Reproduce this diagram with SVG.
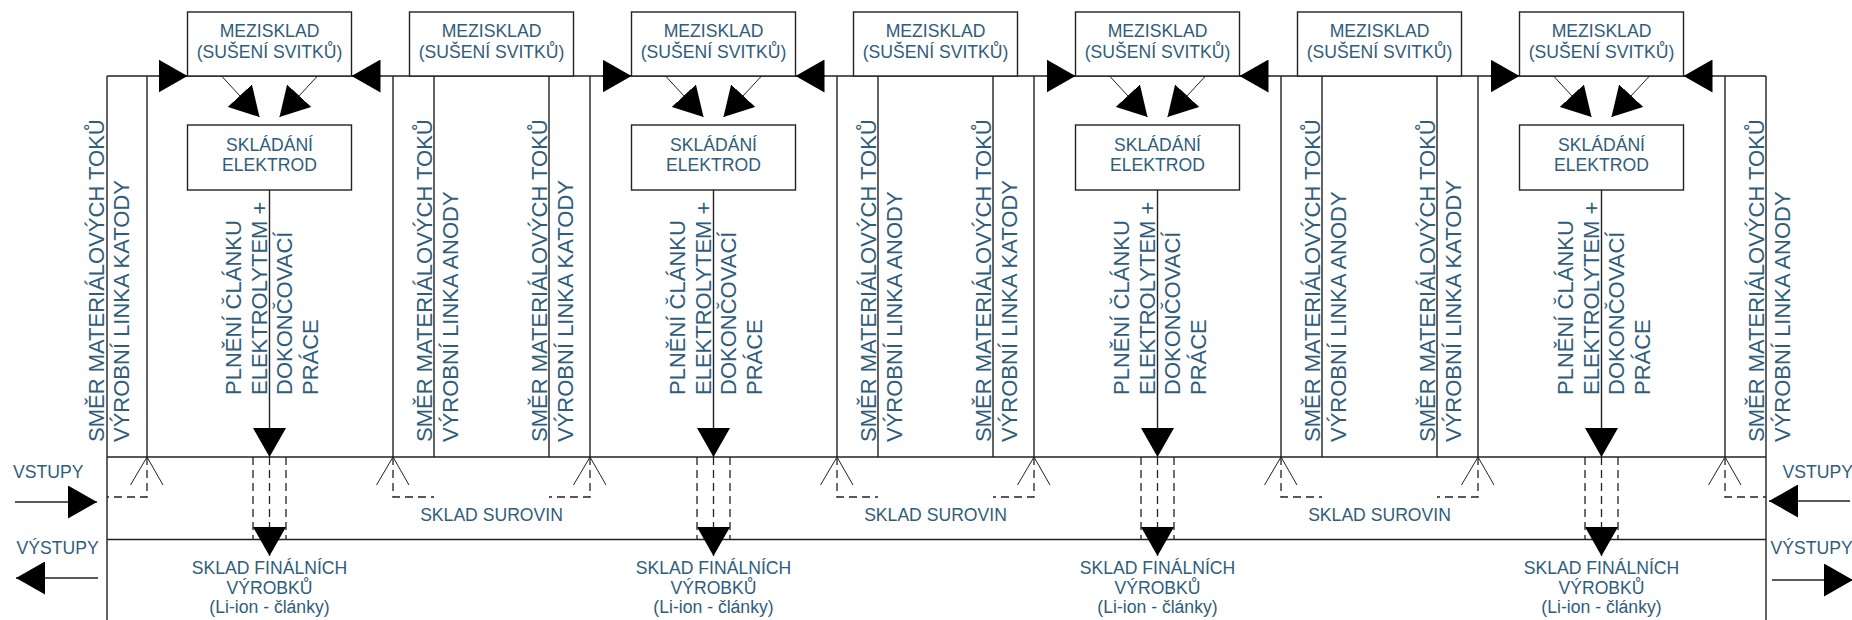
<svg xmlns="http://www.w3.org/2000/svg" width="1852" height="620" viewBox="0 0 1852 620">
<defs>
<style>
.ln{stroke:#222;stroke-width:1.4;fill:none}
.th{stroke:#222;stroke-width:1;fill:none}
.ds{stroke:#222;stroke-width:1.3;stroke-dasharray:8 5;fill:none}
.bx{fill:#fff;stroke:#222;stroke-width:1.4}
.t{font-family:"Liberation Sans",Arial,sans-serif;font-size:17.6px;fill:#2f5d7b}
.c{text-anchor:middle}
.v{font-size:22px}
</style>
<marker id="ah" viewBox="0 0 29 33" refX="29" refY="16.5" markerWidth="29" markerHeight="33" markerUnits="userSpaceOnUse" orient="auto">
<path d="M0,0 L29,16.5 L0,33 Z" fill="#000" stroke="none"/>
</marker>
</defs>
<rect width="1852" height="620" fill="#fff"/>

<g id="connectors">
<path class="ln" d="M107,76 H1766 M107,457 H1766 M107,539.5 H1766 M107,76 V620 M1766,76 V620"/>
<path class="ln" d="M147,76 V457 M393,76 V457 M434,76 V457 M549,76 V457 M590,76 V457 M837,76 V457 M878,76 V457 M993,76 V457 M1034,76 V457 M1281,76 V457 M1322,76 V457 M1437,76 V457 M1478,76 V457 M1725,76 V457"/>
<path class="th" d="M130.5,485 L147,457 L163,485 M376.5,485 L393,457 L409,485 M573.5,485 L590,457 L606,485 M820.5,485 L837,457 L853,485 M1017.5,485 L1034,457 L1050,485 M1264.5,485 L1281,457 L1297,485 M1461.5,485 L1478,457 L1494,485 M1708.5,485 L1725,457 L1741,485"/>
<path class="ds" d="M147,457 V497 H107 M393,457 V497 H434 M590,457 V497 H549 M837,457 V497 H878 M1034,457 V497 H993 M1281,457 V497 H1322 M1478,457 V497 H1437 M1725,457 V497 H1766"/>
<path class="ds" d="M253,457 V539.5 M286,457 V539.5 M697,457 V539.5 M730,457 V539.5 M1141,457 V539.5 M1174,457 V539.5 M1585,457 V539.5 M1618,457 V539.5"/>
<g marker-end="url(#ah)">
<path class="ds" d="M269.5,457 V556"/>
<path class="ds" d="M713.5,457 V556"/>
<path class="ds" d="M1157.5,457 V556"/>
<path class="ds" d="M1601.5,457 V556"/>
<path class="ln" d="M269.5,190 V457"/>
<path class="ln" d="M713.5,190 V457"/>
<path class="ln" d="M1157.5,190 V457"/>
<path class="ln" d="M1601.5,190 V457"/>
<path class="ln" d="M158.5,76 H187.5"/>
<path class="ln" d="M380.5,76 H351.5"/>
<path class="ln" d="M602.5,76 H631.5"/>
<path class="ln" d="M824.5,76 H795.5"/>
<path class="ln" d="M1046.5,76 H1075.5"/>
<path class="ln" d="M1268.5,76 H1239.5"/>
<path class="ln" d="M1490.5,76 H1519.5"/>
<path class="ln" d="M1712.5,76 H1683.5"/>
<path class="th" d="M221.5,76 L259.5,117"/>
<path class="th" d="M317.5,76 L279.5,117"/>
<path class="th" d="M665.5,76 L703.5,117"/>
<path class="th" d="M761.5,76 L723.5,117"/>
<path class="th" d="M1109.5,76 L1147.5,117"/>
<path class="th" d="M1205.5,76 L1167.5,117"/>
<path class="th" d="M1553.5,76 L1591.5,117"/>
<path class="th" d="M1649.5,76 L1611.5,117"/>
<path class="ln" d="M15,502 H97"/>
<path class="ln" d="M98,578 H16"/>
<path class="ln" d="M1850,501 H1769"/>
<path class="ln" d="M1772,580 H1853"/>
</g>
</g>

<g id="mezisklad-1"><rect class="bx" x="187.5" y="12" width="164" height="64"/><text class="t c" x="269.5" y="37">MEZISKLAD<tspan x="269.5" y="57.5">(SUŠENÍ SVITKŮ)</tspan></text></g>
<g id="mezisklad-2"><rect class="bx" x="409.5" y="12" width="164" height="64"/><text class="t c" x="491.5" y="37">MEZISKLAD<tspan x="491.5" y="57.5">(SUŠENÍ SVITKŮ)</tspan></text></g>
<g id="mezisklad-3"><rect class="bx" x="631.5" y="12" width="164" height="64"/><text class="t c" x="713.5" y="37">MEZISKLAD<tspan x="713.5" y="57.5">(SUŠENÍ SVITKŮ)</tspan></text></g>
<g id="mezisklad-4"><rect class="bx" x="853.5" y="12" width="164" height="64"/><text class="t c" x="935.5" y="37">MEZISKLAD<tspan x="935.5" y="57.5">(SUŠENÍ SVITKŮ)</tspan></text></g>
<g id="mezisklad-5"><rect class="bx" x="1075.5" y="12" width="164" height="64"/><text class="t c" x="1157.5" y="37">MEZISKLAD<tspan x="1157.5" y="57.5">(SUŠENÍ SVITKŮ)</tspan></text></g>
<g id="mezisklad-6"><rect class="bx" x="1297.5" y="12" width="164" height="64"/><text class="t c" x="1379.5" y="37">MEZISKLAD<tspan x="1379.5" y="57.5">(SUŠENÍ SVITKŮ)</tspan></text></g>
<g id="mezisklad-7"><rect class="bx" x="1519.5" y="12" width="164" height="64"/><text class="t c" x="1601.5" y="37">MEZISKLAD<tspan x="1601.5" y="57.5">(SUŠENÍ SVITKŮ)</tspan></text></g>

<g id="skladani-1"><rect class="bx" x="187.5" y="125" width="164" height="65"/><text class="t c" x="269.5" y="151">SKLÁDÁNÍ<tspan x="269.5" y="171">ELEKTROD</tspan></text></g>
<g id="skladani-3"><rect class="bx" x="631.5" y="125" width="164" height="65"/><text class="t c" x="713.5" y="151">SKLÁDÁNÍ<tspan x="713.5" y="171">ELEKTROD</tspan></text></g>
<g id="skladani-5"><rect class="bx" x="1075.5" y="125" width="164" height="65"/><text class="t c" x="1157.5" y="151">SKLÁDÁNÍ<tspan x="1157.5" y="171">ELEKTROD</tspan></text></g>
<g id="skladani-7"><rect class="bx" x="1519.5" y="125" width="164" height="65"/><text class="t c" x="1601.5" y="151">SKLÁDÁNÍ<tspan x="1601.5" y="171">ELEKTROD</tspan></text></g>

<g id="plneni-1"><text class="t v" transform="translate(241,395) rotate(-90)"><tspan x="0" y="0">PLNĚNÍ ČLÁNKU</tspan><tspan x="0" y="25.7">ELEKTROLYTEM +</tspan><tspan x="0" y="51.4">DOKONČOVACÍ</tspan><tspan x="0" y="77.1">PRÁCE</tspan></text></g>
<g id="plneni-3"><text class="t v" transform="translate(685,395) rotate(-90)"><tspan x="0" y="0">PLNĚNÍ ČLÁNKU</tspan><tspan x="0" y="25.7">ELEKTROLYTEM +</tspan><tspan x="0" y="51.4">DOKONČOVACÍ</tspan><tspan x="0" y="77.1">PRÁCE</tspan></text></g>
<g id="plneni-5"><text class="t v" transform="translate(1129,395) rotate(-90)"><tspan x="0" y="0">PLNĚNÍ ČLÁNKU</tspan><tspan x="0" y="25.7">ELEKTROLYTEM +</tspan><tspan x="0" y="51.4">DOKONČOVACÍ</tspan><tspan x="0" y="77.1">PRÁCE</tspan></text></g>
<g id="plneni-7"><text class="t v" transform="translate(1573,395) rotate(-90)"><tspan x="0" y="0">PLNĚNÍ ČLÁNKU</tspan><tspan x="0" y="25.7">ELEKTROLYTEM +</tspan><tspan x="0" y="51.4">DOKONČOVACÍ</tspan><tspan x="0" y="77.1">PRÁCE</tspan></text></g>

<g id="linka-katody-0"><text class="t v" transform="translate(104,442) rotate(-90)"><tspan x="0" y="0">SMĚR MATERIÁLOVÝCH TOKŮ</tspan><tspan x="0" y="25">VÝROBNÍ LINKA KATODY</tspan></text></g>
<g id="linka-anody-2"><text class="t v" transform="translate(432,442) rotate(-90)"><tspan x="0" y="0">SMĚR MATERIÁLOVÝCH TOKŮ</tspan><tspan x="0" y="25.5">VÝROBNÍ LINKA ANODY</tspan></text></g>
<g id="linka-katody-2"><text class="t v" transform="translate(547,442) rotate(-90)"><tspan x="0" y="0">SMĚR MATERIÁLOVÝCH TOKŮ</tspan><tspan x="0" y="25.5">VÝROBNÍ LINKA KATODY</tspan></text></g>
<g id="linka-anody-4"><text class="t v" transform="translate(876,442) rotate(-90)"><tspan x="0" y="0">SMĚR MATERIÁLOVÝCH TOKŮ</tspan><tspan x="0" y="25.5">VÝROBNÍ LINKA ANODY</tspan></text></g>
<g id="linka-katody-4"><text class="t v" transform="translate(991,442) rotate(-90)"><tspan x="0" y="0">SMĚR MATERIÁLOVÝCH TOKŮ</tspan><tspan x="0" y="25.5">VÝROBNÍ LINKA KATODY</tspan></text></g>
<g id="linka-anody-6"><text class="t v" transform="translate(1320,442) rotate(-90)"><tspan x="0" y="0">SMĚR MATERIÁLOVÝCH TOKŮ</tspan><tspan x="0" y="25.5">VÝROBNÍ LINKA ANODY</tspan></text></g>
<g id="linka-katody-6"><text class="t v" transform="translate(1435,442) rotate(-90)"><tspan x="0" y="0">SMĚR MATERIÁLOVÝCH TOKŮ</tspan><tspan x="0" y="25.5">VÝROBNÍ LINKA KATODY</tspan></text></g>
<g id="linka-anody-8"><text class="t v" transform="translate(1764,442) rotate(-90)"><tspan x="0" y="0">SMĚR MATERIÁLOVÝCH TOKŮ</tspan><tspan x="0" y="25.5">VÝROBNÍ LINKA ANODY</tspan></text></g>

<g id="sklad-surovin-2"><text class="t c" x="491.5" y="521">SKLAD SUROVIN</text></g>
<g id="sklad-surovin-4"><text class="t c" x="935.5" y="521">SKLAD SUROVIN</text></g>
<g id="sklad-surovin-6"><text class="t c" x="1379.5" y="521">SKLAD SUROVIN</text></g>

<g id="sklad-final-1"><text class="t c" x="269.5" y="574">SKLAD FINÁLNÍCH<tspan x="269.5" y="593.5">VÝROBKŮ</tspan><tspan x="269.5" y="613">(Li-ion - články)</tspan></text></g>
<g id="sklad-final-3"><text class="t c" x="713.5" y="574">SKLAD FINÁLNÍCH<tspan x="713.5" y="593.5">VÝROBKŮ</tspan><tspan x="713.5" y="613">(Li-ion - články)</tspan></text></g>
<g id="sklad-final-5"><text class="t c" x="1157.5" y="574">SKLAD FINÁLNÍCH<tspan x="1157.5" y="593.5">VÝROBKŮ</tspan><tspan x="1157.5" y="613">(Li-ion - články)</tspan></text></g>
<g id="sklad-final-7"><text class="t c" x="1601.5" y="574">SKLAD FINÁLNÍCH<tspan x="1601.5" y="593.5">VÝROBKŮ</tspan><tspan x="1601.5" y="613">(Li-ion - články)</tspan></text></g>

<g id="vstupy-left"><text class="t" x="13" y="478">VSTUPY</text></g>
<g id="vystupy-left"><text class="t" x="16.5" y="554">VÝSTUPY</text></g>
<g id="vstupy-right"><text class="t" x="1782.5" y="478">VSTUPY</text></g>
<g id="vystupy-right"><text class="t" x="1770.5" y="554">VÝSTUPY</text></g>
</svg>
